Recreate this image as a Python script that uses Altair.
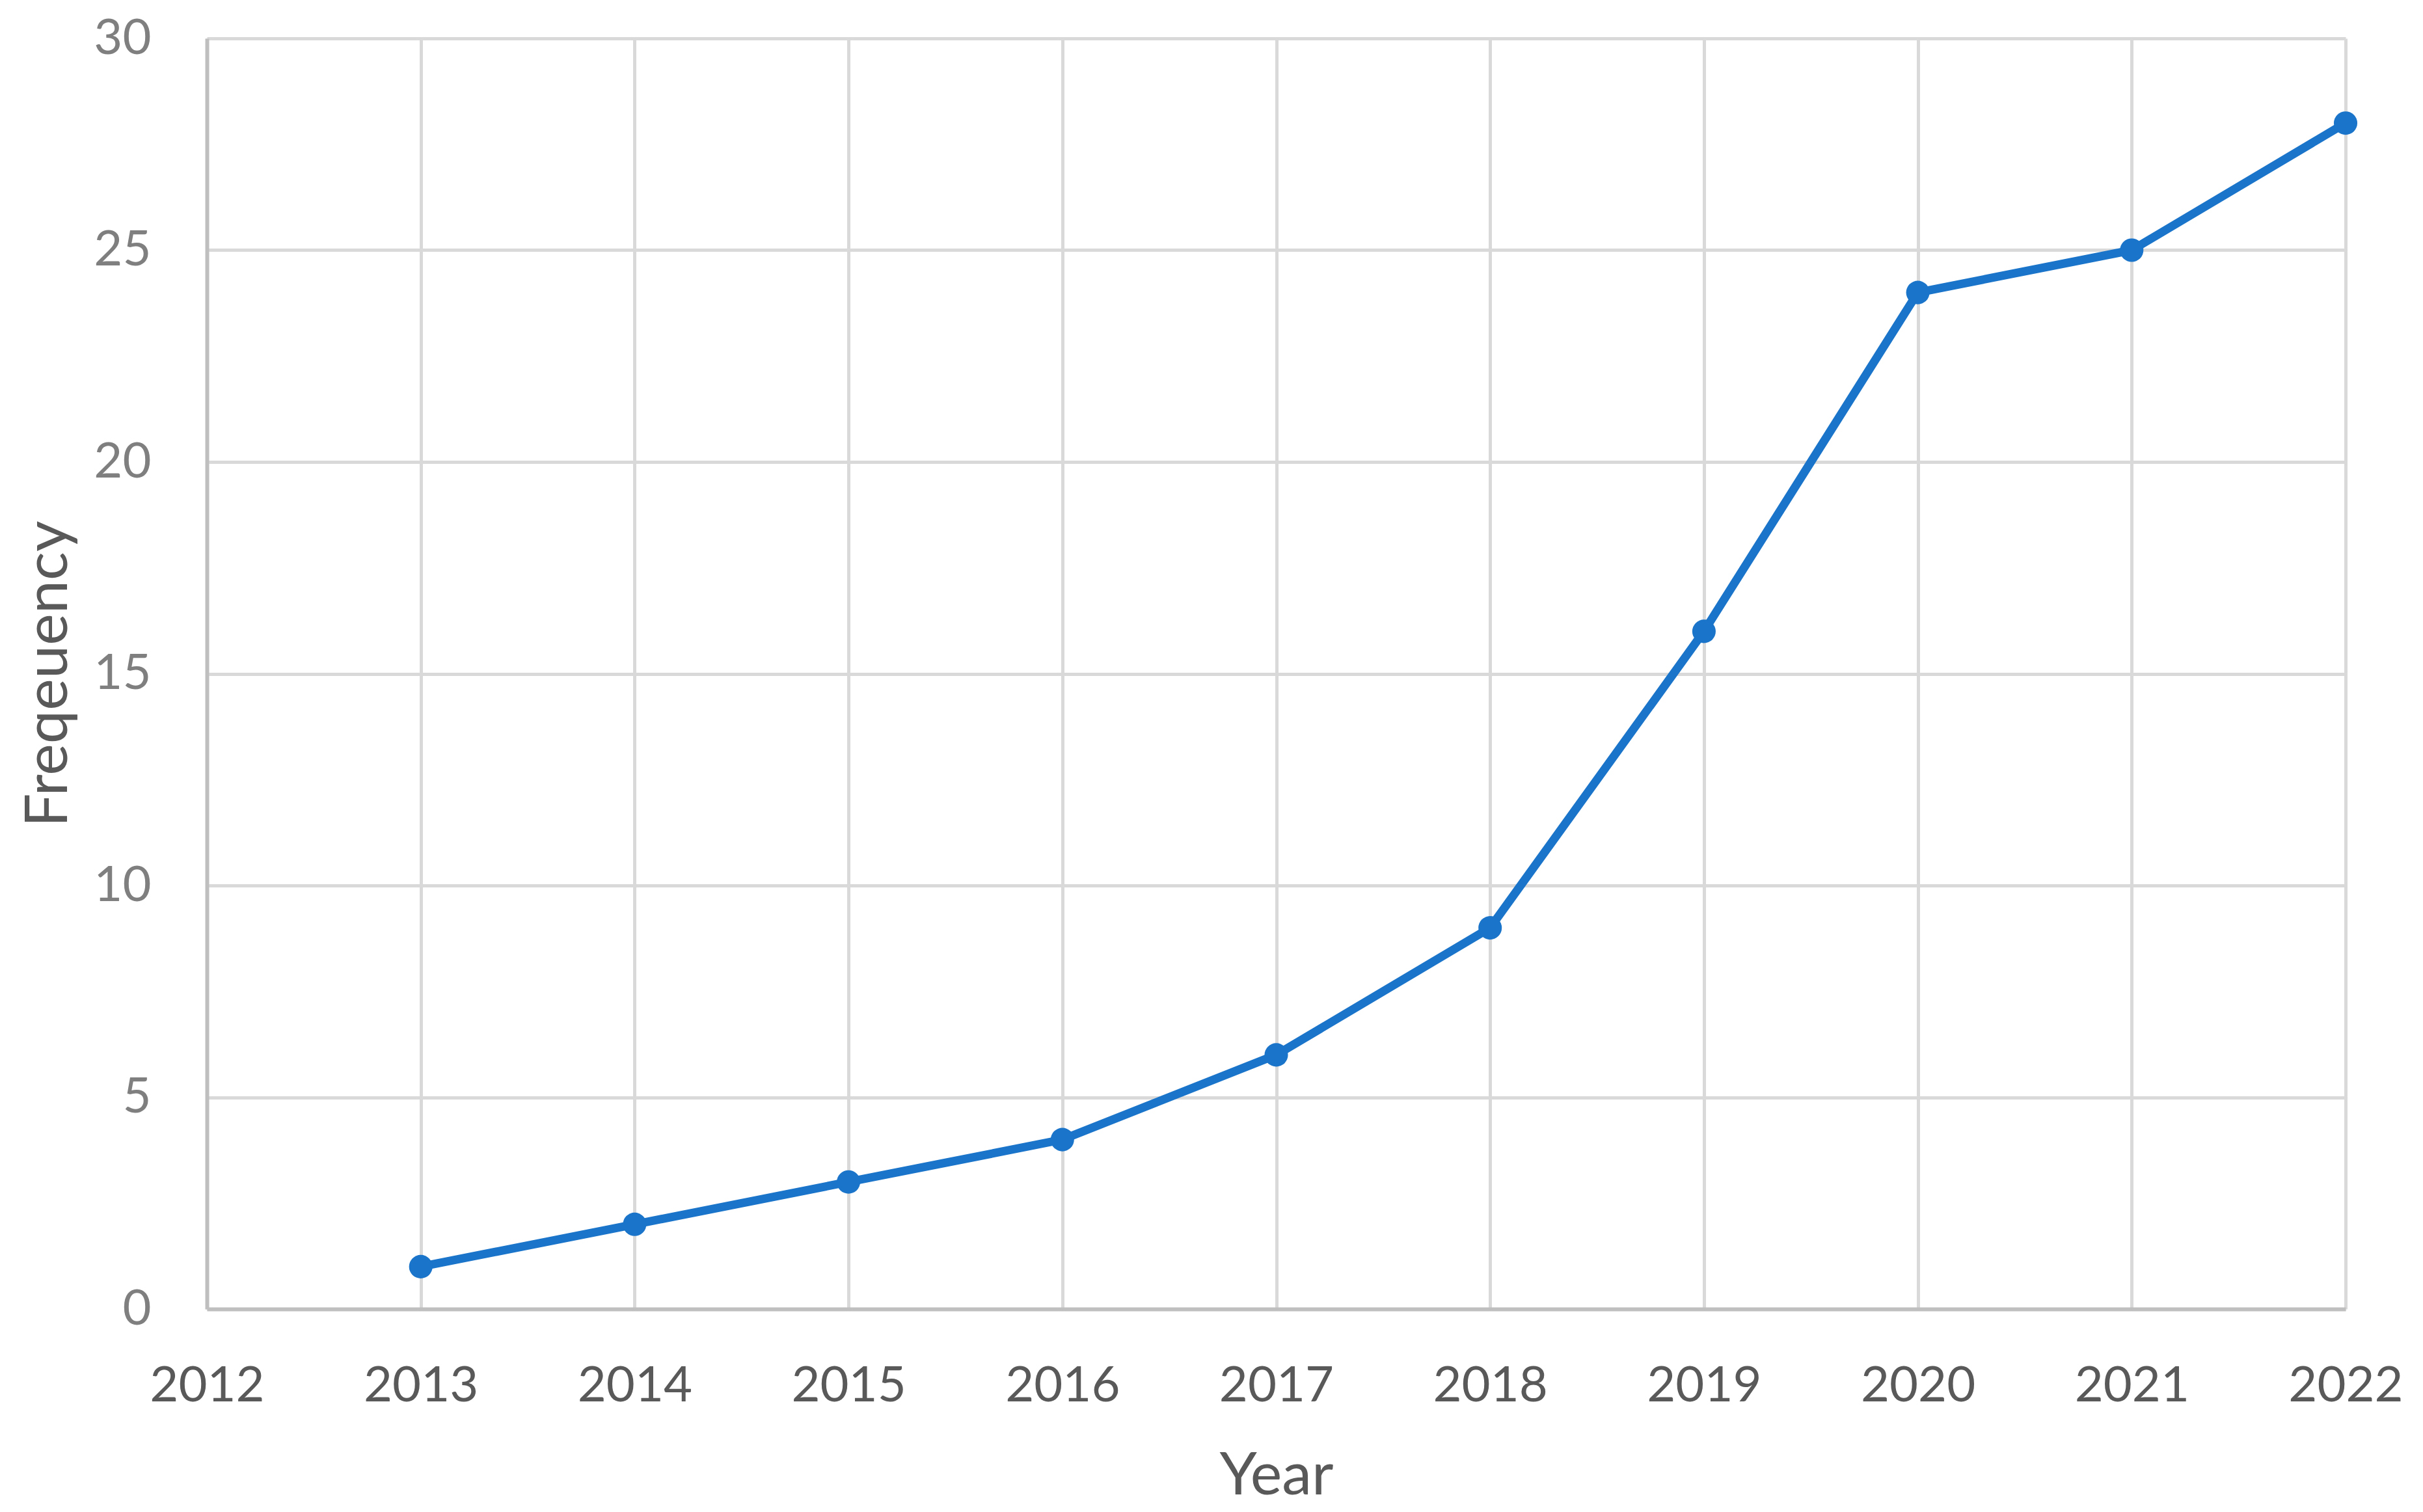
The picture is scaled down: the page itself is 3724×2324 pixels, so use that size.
import altair as alt
import pandas as pd

years = [2013, 2014, 2015, 2016, 2017, 2018, 2019, 2020, 2021, 2022]
frequency = [1, 2, 3, 4, 6, 9, 16, 24, 25, 28]
x_ticks = list(range(2012, 2023))
y_ticks = [0, 5, 10, 15, 20, 25, 30]

df = pd.DataFrame({"Year": years, "Frequency": frequency})

FONT = "Lato"
LINE = "#1a74c9"

W, H = 3287, 1953

x = alt.X(
    "Year:Q",
    scale=alt.Scale(domain=[2012, 2022], nice=False, zero=False),
    axis=alt.Axis(
        title="Year",
        values=x_ticks,
        format="d",
        labelFont=FONT,
        labelFontSize=76,
        labelColor="#595959",
        labelPadding=118,
        labelBaseline="middle",
        labelFlush=False,
        labelOverlap=False,
        ticks=False,
        tickSize=0,
        domainColor="#bfbfbf",
        domainWidth=6,
        gridColor="#d9d9d9",
        gridWidth=5,
        titleFont=FONT,
        titleFontSize=92,
        titleFontWeight="normal",
        titleColor="#595959",
        titleY=256,
        titleBaseline="middle",
    ),
)

y = alt.Y(
    "Frequency:Q",
    scale=alt.Scale(domain=[0, 30], nice=False),
    axis=alt.Axis(
        title="Freqeuency",
        values=y_ticks,
        labelFont=FONT,
        labelFontSize=76,
        labelColor="#7f7f7f",
        labelPadding=86,
        labelBaseline="middle",
        labelFlush=False,
        labelOverlap=False,
        ticks=False,
        tickSize=0,
        domainColor="#bfbfbf",
        domainWidth=6,
        gridColor="#d9d9d9",
        gridWidth=5,
        titleFont=FONT,
        titleFontSize=92,
        titleFontWeight="normal",
        titleColor="#595959",
        titleAngle=270,
        titleX=-244,
        titleY=H / 2,
        titleAlign="center",
        titleBaseline="middle",
    ),
)

line = alt.Chart(df).mark_line(color=LINE, strokeWidth=13).encode(x=x, y=y)
pts = alt.Chart(df).mark_point(filled=True, color=LINE, size=1300, opacity=1).encode(x=x, y=y)

chart = (
    alt.layer(line, pts)
    .properties(
        width=W,
        height=H,
        autosize=alt.AutoSizeParams(type="none"),
        padding={"left": 310, "top": 51, "right": 100, "bottom": 310},
        background="white",
    )
    .configure_view(strokeWidth=0)
)

chart.save("out.html", embed_options={"renderer": "svg", "actions": False})
